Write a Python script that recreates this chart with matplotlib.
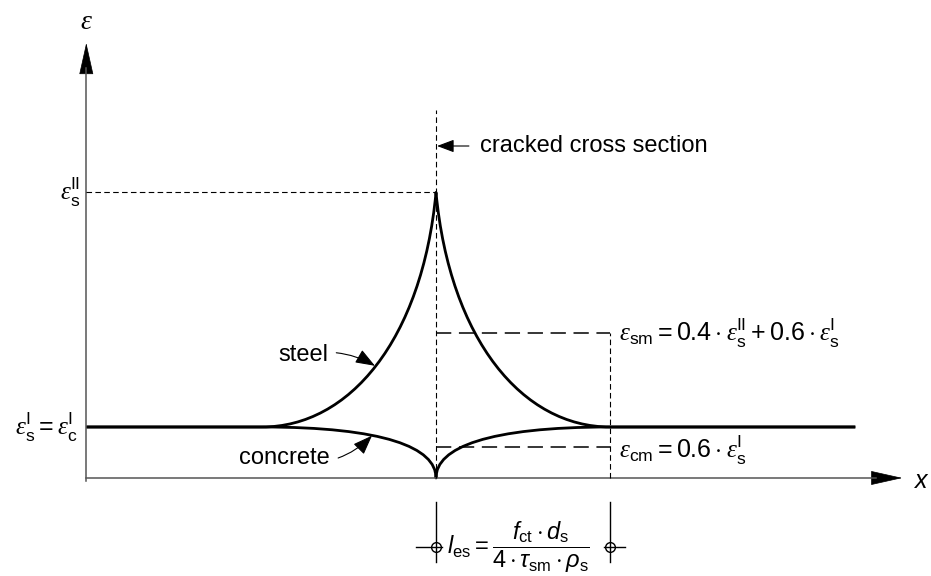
import matplotlib

matplotlib.use("Agg")
import matplotlib.pyplot as plt
from matplotlib.patches import FancyArrowPatch, PathPatch
from matplotlib.path import Path

plt.rcParams["font.family"] = ["Liberation Sans", "DejaVu Sans"]
plt.rcParams["mathtext.fontset"] = "custom"
plt.rcParams["mathtext.rm"] = "Liberation Sans"
plt.rcParams["mathtext.it"] = "Liberation Sans:italic"
plt.rcParams["mathtext.sf"] = "Liberation Serif:italic"

# strains (scaled so that eps_s_I = 1) and transfer length
l_es = 1.0
eps_s_I = 1.0
eps_s_II = 5.6
eps_sm = 0.4 * eps_s_II + 0.6 * eps_s_I
eps_cm = 0.6 * eps_s_I

# extent of the drawn member and axes
x_axis_start = -2.01
x_axis_tip = 2.68
x_plateau_end = 2.41
y_axis_tip = 8.53
crack_top = 7.22
dim_level = -1.353

# right-hand halves as cubic bezier control points (x / l_es, strain)
steel_ctrl = [(0.0, eps_s_II), (0.08, 2.7), (0.5, eps_s_I), (1.0, eps_s_I)]
concrete_ctrl = [(0.0, 0.0), (0.0, 0.6), (0.3, eps_s_I), (1.0, eps_s_I)]

EPS = r"\mathsf{\varepsilon}"


def strain_path(ctrl):
    # plateau -> left half (mirrored) -> right half -> plateau
    left = [(-x * l_es, y) for x, y in reversed(ctrl)]
    right = [(x * l_es, y) for x, y in ctrl]
    verts = [(x_axis_start, eps_s_I)] + left + right[1:] + [(x_plateau_end, eps_s_I)]
    codes = (
        [Path.MOVETO, Path.LINETO]
        + [Path.CURVE4] * 3
        + [Path.CURVE4] * 3
        + [Path.LINETO]
    )
    return Path(verts, codes)


fig = plt.figure(figsize=(9.31, 5.76), dpi=100)
ax = fig.add_axes([0, 0, 1, 1])
ax.set_xlim(-2.506, 2.845)
ax.set_ylim(-1.922, 9.373)
ax.axis("off")

# axes with arrow heads
axis_grey = "#555555"
ax.plot([x_axis_start, x_axis_tip - 0.15], [0, 0], color=axis_grey, lw=1.1)
ax.plot([x_axis_start, x_axis_start], [-0.05, y_axis_tip - 0.5], color=axis_grey, lw=1.1)
for tail, tip in [
    ((x_axis_tip - 0.17, 0), (x_axis_tip, 0)),
    ((x_axis_start, y_axis_tip - 0.57), (x_axis_start, y_axis_tip)),
]:
    ax.add_patch(
        FancyArrowPatch(
            tail, tip, arrowstyle="-|>,head_length=2.1,head_width=0.47",
            mutation_scale=10, color="black", lw=0.5, shrinkA=0, shrinkB=0,
        )
    )
ax.text(x_axis_start, 8.94, f"${EPS}$", fontsize=20, ha="center", va="center")
ax.text(2.79, -0.06, "$x$", fontsize=18, ha="center", va="center")

# reference levels
fine = dict(color="black", lw=0.8, linestyle=(0, (5, 3)))
coarse = dict(color="black", lw=1.1, linestyle=(0, (10, 5)))
ax.plot([0, 0], [0, crack_top], **fine)
ax.plot([x_axis_start, 0], [eps_s_II, eps_s_II], **fine)
ax.plot([l_es, l_es], [0, eps_sm], **fine)
ax.plot([0, l_es], [eps_sm, eps_sm], **coarse)
ax.plot([0, l_es], [eps_cm, eps_cm], **coarse)

# steel and concrete strain curves
for ctrl in (steel_ctrl, concrete_ctrl):
    ax.add_patch(
        PathPatch(strain_path(ctrl), fill=False, lw=2.0, color="black",
                  capstyle="butt", joinstyle="round")
    )

# labels
ax.text(-2.046, eps_s_II, rf"${EPS}_{{\mathrm{{s}}}}^{{\mathrm{{II}}}}$",
        fontsize=18, ha="right", va="center")
ax.text(-2.057, eps_s_I,
        rf"${EPS}_{{\mathrm{{s}}}}^{{\mathrm{{I}}}} = {EPS}_{{\mathrm{{c}}}}^{{\mathrm{{I}}}}$",
        fontsize=18, ha="right", va="center")
ax.text(1.052, eps_sm,
        rf"${EPS}_{{\mathrm{{sm}}}} = 0.4\cdot {EPS}_{{\mathrm{{s}}}}^{{\mathrm{{II}}}}"
        rf" + 0.6\cdot {EPS}_{{\mathrm{{s}}}}^{{\mathrm{{I}}}}$",
        fontsize=18, ha="left", va="center")
ax.text(1.052, eps_cm - 0.05,
        rf"${EPS}_{{\mathrm{{cm}}}} = 0.6\cdot {EPS}_{{\mathrm{{s}}}}^{{\mathrm{{I}}}}$",
        fontsize=18, ha="left", va="center")

small_head = "-|>,head_length=0.8,head_width=0.3"
ax.annotate("cracked cross section", xy=(0.006, 6.51), xytext=(0.253, 6.51),
            fontsize=17, ha="left", va="center",
            arrowprops=dict(arrowstyle=small_head, color="black", lw=0.8,
                            mutation_scale=13, shrinkA=6, shrinkB=0))
ax.annotate("steel", xy=(-0.351, 2.2), xytext=(-0.621, 2.41),
            fontsize=17, ha="right", va="center",
            arrowprops=dict(arrowstyle=small_head, color="black", lw=0.8,
                            mutation_scale=15, shrinkA=4, shrinkB=0,
                            connectionstyle="arc3,rad=-0.2"))
ax.annotate("concrete", xy=(-0.368, 0.83), xytext=(-0.609, 0.39),
            fontsize=17, ha="right", va="center",
            arrowprops=dict(arrowstyle=small_head, color="black", lw=0.8,
                            mutation_scale=15, shrinkA=4, shrinkB=0,
                            connectionstyle="arc3,rad=0.3"))

# dimension for the transfer length
for xd, stub in [(0.0, (-0.115, 0.035)), (l_es, (0.965, 1.085))]:
    ax.plot([xd, xd], [-0.47, -1.65], color="black", lw=1.0)
    ax.plot(stub, [dim_level, dim_level], color="black", lw=1.0)
    ax.plot(xd, dim_level, marker="o", ms=7, mfc="none", mec="black", mew=1.0)
ax.text(0.062, dim_level,
        r"$l_{\mathrm{es}} = \dfrac{f_{\mathrm{ct}}\cdot d_{\mathrm{s}}}"
        r"{4\cdot \tau_{\mathrm{sm}}\cdot \rho_{\mathrm{s}}}$",
        fontsize=17, ha="left", va="center")

fig.savefig("out.png", dpi=100)
